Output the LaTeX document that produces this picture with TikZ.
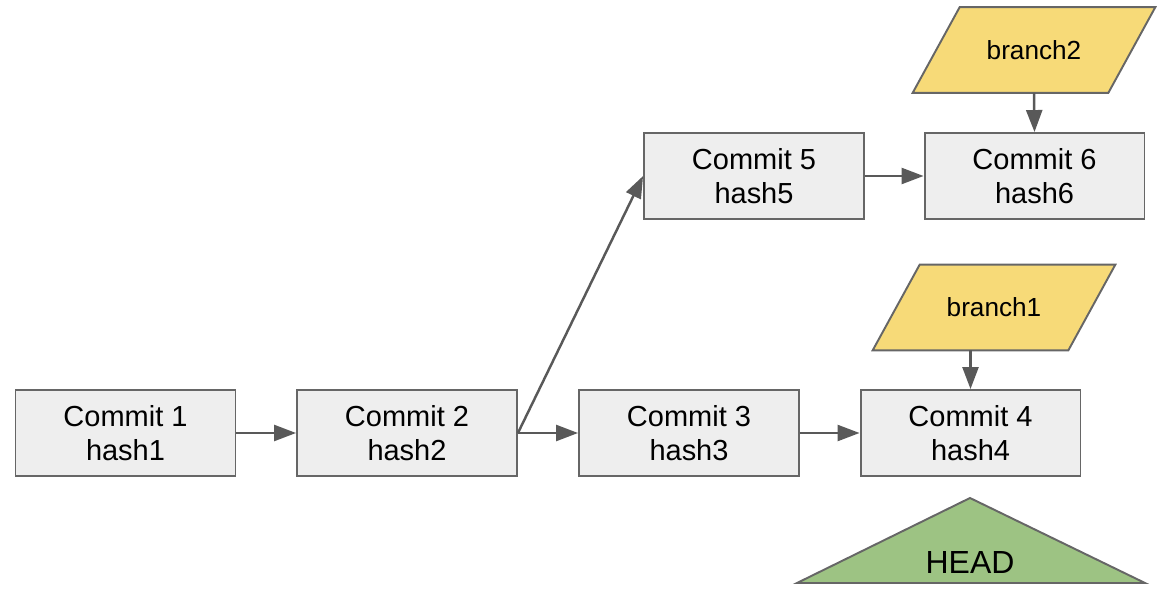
\documentclass[tikz,border=0pt]{standalone}
\usepackage{fontspec}
\setmainfont{Liberation Sans}
\usetikzlibrary{arrows.meta}
\definecolor{boxfill}{HTML}{EEEEEE}
\definecolor{boxline}{HTML}{666666}
\definecolor{arrowgray}{HTML}{595959}
\definecolor{branchfill}{HTML}{F7DA78}
\definecolor{headfill}{HTML}{9DC383}
\begin{document}
\begin{tikzpicture}[x=0.02cm, y=-0.02cm,
    commit/.style={draw=boxline, fill=boxfill, line width=1.1pt, minimum width=4.4cm,
                   minimum height=1.72cm, align=center, inner sep=0pt,
                   font=\fontsize{16.5}{19.5}\selectfont},
    branch/.style={minimum width=3.9cm, minimum height=1.7cm, inner sep=0pt,
                   font=\fontsize{14.9}{18}\selectfont},
    slanted/.style={draw=boxline, fill=branchfill, line width=1.1pt},
    arr/.style={draw=arrowgray, line width=1.4pt,
                -{Triangle[length=0.44cm, width=0.32cm]}}]
    \useasboundingbox (0, 0) rectangle (1166, 594);
    \draw (125.5, 433) node[commit] (c1) {Commit 1\\hash1}
          (407, 433) node[commit] (c2) {Commit 2\\hash2}
          (689, 433) node[commit] (c3) {Commit 3\\hash3}
          (970.5, 433) node[commit] (c4) {Commit 4\\hash4}
          (754, 176) node[commit] (c5) {Commit 5\\hash5}
          (1034.5, 176) node[commit] (c6) {Commit 6\\hash6};
    \node[branch] (b2) at (1034, 50) {};
    \node[branch] (b1) at (994, 307.5) {};
    % branch labels as parallelograms
    \foreach \b in {b1, b2}
      \draw[slanted] ([xshift=-0.47cm]\b.south west) -- ([xshift=0.47cm]\b.north west)
                     -- ([xshift=0.47cm]\b.north east) -- ([xshift=-0.47cm]\b.south east) -- cycle;
    \node[branch] at (b2) {branch2};
    \node[branch] at (b1) {branch1};
    % HEAD marker
    \draw[draw=boxline, fill=headfill, line width=1.1pt]
          (797, 583) -- (970, 498) -- (1145, 583) -- cycle;
    \node[font=\fontsize{18.2}{20}\selectfont] (hd) at (970, 562) {HEAD};
    \path (c1) edge[arr] (c2)
          (c2) edge[arr] (c3)
          (c3) edge[arr] (c4)
          (c2.east) edge[arr] (c5.west)
          (c5) edge[arr] (c6)
          (b2.south) edge[arr] (c6.north);
    \draw[arr] (b1.south -| c4.north) -- (c4.north);
\end{tikzpicture}
\end{document}
